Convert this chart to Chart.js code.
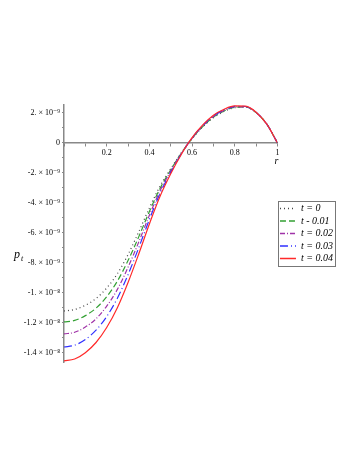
<!DOCTYPE html>
<html>
<head>
<meta charset="utf-8">
<script src="https://cdn.jsdelivr.net/npm/chart.js@4/dist/chart.umd.min.js"></script>
<style>
  html, body { margin: 0; padding: 0; background: #fff; }
  canvas { display: block; }
</style>
</head>
<body>
<canvas id="chart" width="360" height="466"></canvas>
<script>
// radius values (x) and pressure curves, in units of 1e-9
const radius = [0, 0.05, 0.1, 0.15, 0.2, 0.25, 0.3, 0.35, 0.4, 0.45, 0.5, 0.55, 0.6, 0.65, 0.7, 0.75, 0.8, 0.85, 0.9, 0.95, 1];
const pT0  = [-11.2, -11.1, -10.82, -10.37, -9.67, -8.72, -7.44, -5.93, -4.33, -2.88, -1.72, -0.65, 0.28, 1.07, 1.68, 2.1, 2.35, 2.38, 2.02, 1.25, 0];
const pT01 = [-11.93, -11.83, -11.51, -11.01, -10.25, -9.21, -7.84, -6.26, -4.57, -3.03, -1.79, -0.67, 0.3, 1.1, 1.72, 2.13, 2.38, 2.4, 2.02, 1.25, 0];
const pT02 = [-12.73, -12.62, -12.27, -11.72, -10.88, -9.76, -8.29, -6.61, -4.82, -3.19, -1.87, -0.7, 0.31, 1.13, 1.76, 2.17, 2.41, 2.41, 2.03, 1.25, 0];
const pT03 = [-13.6, -13.48, -13.1, -12.48, -11.57, -10.35, -8.78, -6.99, -5.1, -3.36, -1.96, -0.72, 0.33, 1.16, 1.8, 2.21, 2.44, 2.43, 2.04, 1.25, 0];
const pT04 = [-14.53, -14.4, -13.98, -13.3, -12.3, -10.98, -9.3, -7.4, -5.4, -3.55, -2.05, -0.75, 0.35, 1.2, 1.85, 2.25, 2.47, 2.45, 2.05, 1.25, 0];

const seriesNames = ['t = 0', 't - 0.01', 't = 0.02', 't = 0.03', 't = 0.04'];

const xTickValues = [2, 4, 6, 8, 10];            // tenths
const xTickLabels = ['0.2', '0.4', '0.6', '0.8', '1'];
const yTickValues = [2, 0, -2, -4, -6, -8, -10, -12, -14];
const yTickLabels = ['2. \u00d7 10\u207b\u2079', '0', '-2. \u00d7 10\u207b\u2079', '-4. \u00d7 10\u207b\u2079',
  '-6. \u00d7 10\u207b\u2079', '-8. \u00d7 10\u207b\u2079', '-1. \u00d7 10\u207b\u2078',
  '-1.2 \u00d7 10\u207b\u2078', '-1.4 \u00d7 10\u207b\u2078'];

function pts(vals) {
  return radius.map((r, i) => ({ x: r, y: vals[i] }));
}

function series(label, vals, color, dash, order) {
  return {
    label: label,
    data: pts(vals),
    borderColor: color,
    backgroundColor: color,
    borderWidth: 1.2,
    borderDash: dash,
    pointRadius: 0,
    cubicInterpolationMode: 'monotone',
    fill: false,
    order: order
  };
}

const serif = '"Liberation Serif", "DejaVu Serif", serif';

// axis names + legend frame
const extras = {
  id: 'extras',
  afterDraw(chart) {
    const ctx = chart.ctx;
    const xs = chart.scales.x, ys = chart.scales.y;
    ctx.save();
    ctx.fillStyle = '#000';
    ctx.font = 'italic 12px ' + serif;
    ctx.textBaseline = 'alphabetic';
    ctx.fillText('p', 14, 258);
    ctx.font = 'italic 8px ' + serif;
    ctx.fillText('t', 21, 261);
    ctx.font = 'italic 10px ' + serif;
    ctx.fillText('r', xs.getPixelForValue(1) - 3, ys.getPixelForValue(0) + 21);

    const boxes = chart.legend.legendHitBoxes;
    if (boxes && boxes.length) {
      let l = Infinity, t = Infinity, r = -Infinity, b = -Infinity;
      boxes.forEach((h) => {
        l = Math.min(l, h.left); t = Math.min(t, h.top);
        r = Math.max(r, h.left + h.width); b = Math.max(b, h.top + h.height);
      });
      ctx.strokeStyle = '#777';
      ctx.lineWidth = 1;
      ctx.strokeRect(Math.round(l - 2) + 0.5, Math.round(t - 3) + 0.5, Math.round(r - l + 4), Math.round(b - t + 5));
    }
    ctx.restore();
  }
};

new Chart(document.getElementById('chart'), {
  type: 'line',
  data: {
    datasets: [
      series(seriesNames[0], pT0, '#444444', [1, 3], 4),
      series(seriesNames[1], pT01, '#33a033', [6, 3], 3),
      series(seriesNames[2], pT02, '#a033a8', [5, 2, 1, 2], 2),
      series(seriesNames[3], pT03, '#3030ff', [8, 3, 1, 3], 1),
      series(seriesNames[4], pT04, '#ff2a2a', [], 0)
    ]
  },
  options: {
    responsive: false,
    animation: false,
    layout: { padding: { left: 20, right: 17, top: 105, bottom: 104 } },
    plugins: {
      tooltip: { enabled: false },
      legend: {
        position: 'right',
        labels: {
          usePointStyle: true,
          pointStyle: 'line',
          pointStyleWidth: 16,
          boxHeight: 10,
          padding: 2.5,
          color: '#000',
          font: { family: serif, size: 10, style: 'italic' },
          sort: (a, b) => a.datasetIndex - b.datasetIndex,
          generateLabels: (chart) => {
            const items = Chart.defaults.plugins.legend.labels.generateLabels(chart);
            return items.map((it) => {
              const ds = chart.data.datasets[it.datasetIndex];
              return Object.assign({}, it, {
                lineDash: ds.borderDash.slice(),
                strokeStyle: ds.borderColor,
                fillStyle: ds.borderColor,
                lineWidth: 1.4,
                pointStyle: 'line'
              });
            });
          }
        }
      }
    },
    scales: {
      x: {
        type: 'linear',
        min: 0,
        max: 1,
        position: { y: 0 },
        border: { color: '#888', width: 1.5 },
        grid: { drawOnChartArea: false, drawTicks: true, tickLength: 3, color: '#888' },
        ticks: {
          stepSize: 0.1,
          autoSkip: false,
          maxRotation: 0,
          padding: 2,
          color: '#000',
          font: { family: serif, size: 8 },
          callback: (v) => {
            const i = xTickValues.indexOf(Math.round(v * 10));
            return i >= 0 ? xTickLabels[i] : '';
          }
        }
      },
      y: {
        type: 'linear',
        min: -14.6,
        max: 2.53,
        border: { color: '#888', width: 1.5 },
        grid: { drawOnChartArea: false, drawTicks: true, tickLength: 2, color: '#888' },
        ticks: {
          stepSize: 1,
          includeBounds: false,
          autoSkip: false,
          padding: 2,
          color: '#000',
          font: { family: serif, size: 8 },
          callback: (v) => {
            const i = yTickValues.indexOf(Math.round(v));
            return i >= 0 ? yTickLabels[i] : '';
          }
        },
        afterFit: (scale) => { scale.width = 44; }
      }
    }
  },
  plugins: [extras]
});
</script>
</body>
</html>
